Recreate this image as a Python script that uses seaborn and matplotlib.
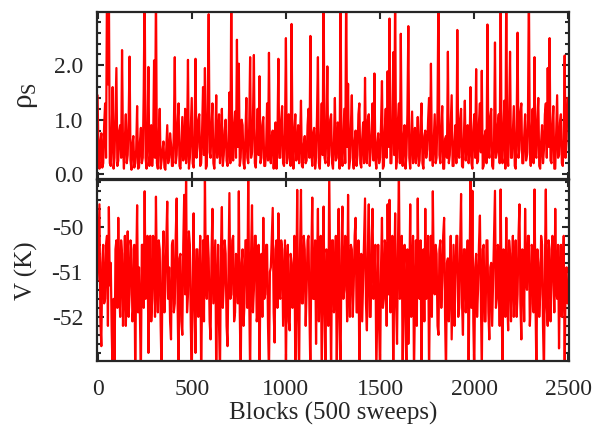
import numpy as np
import pandas as pd
import seaborn as sns
import matplotlib.pyplot as plt
from matplotlib.ticker import MultipleLocator, FixedLocator, FormatStrFormatter

# un punto cada 5 bloques (500 sweeps por bloque)
paso = 5

# densidad superfluida rho_S, leida a ojo del grafico
rho_s = [
    1.45, 0.4, 0.1, 0.6, 0.75, 0.12, 0.2, 0.9, 1.3, 0.3, 3.5, 1.65, 3.5, 0.2, 0.15, 0.7, 1.6, 0.1, 0.3, 1.1,
    1.95, 0.15, 0.25, 0.8, 0.9, 0.3, 2.28, 0.5, 0.1, 0.65, 1.1, 0.2, 0.35, 1.0, 2.16, 0.25, 0.08, 0.55, 0.7, 0.12,
    0.2, 0.45, 1.25, 0.1, 0.12, 0.6, 0.85, 0.2, 0.3, 1.5, 3.5, 0.3, 0.1, 0.75, 1.97, 0.15, 0.4, 0.9, 0.15, 0.5,
    2.09, 0.3, 3.5, 0.2, 0.1, 0.7, 1.2, 0.1, 0.25, 0.45, 0.6, 0.12, 0.08, 0.5, 0.9, 0.2, 0.3, 0.75, 0.55, 0.15,
    0.15, 0.8, 2.15, 0.2, 0.35, 0.95, 1.3, 0.15, 0.1, 0.6, 1.05, 0.25, 0.45, 1.2, 0.2, 0.5, 2.1, 0.1, 0.3, 0.85,
    1.4, 0.2, 0.12, 0.7, 2.12, 0.3, 0.5, 1.0, 1.1, 0.15, 0.2, 0.8, 1.6, 0.35, 1.95, 0.1, 0.15, 1.3, 2.94, 0.4,
    0.3, 0.9, 1.3, 0.2, 0.1, 0.65, 1.45, 0.3, 0.6, 1.1, 0.2, 0.5, 1.2, 0.15, 0.35, 0.8, 1.0, 0.25, 0.15, 0.6,
    1.5, 0.2, 3.5, 0.4, 0.25, 0.9, 1.15, 0.3, 2.47, 0.5, 2.03, 0.15, 0.3, 1.0, 0.9, 0.2, 0.1, 0.7, 1.4, 0.3,
    0.2, 0.85, 2.15, 0.3, 0.4, 1.0, 2.19, 0.2, 0.12, 0.6, 1.2, 0.35, 1.8, 0.2, 0.3, 0.9, 1.05, 0.15, 0.15, 0.5,
    1.3, 0.25, 2.23, 0.4, 0.2, 0.7, 0.8, 0.1, 0.45, 0.95, 0.1, 0.6, 2.12, 0.3, 0.3, 1.0, 1.25, 0.2, 0.15, 0.75,
    2.5, 0.2, 0.3, 1.1, 0.9, 0.15, 2.76, 0.5, 0.1, 0.8, 1.1, 0.25, 0.4, 0.9, 0.2, 0.6, 1.35, 0.15, 0.12, 0.55,
    0.7, 0.2, 0.25, 0.9, 1.2, 0.3, 2.54, 0.4, 0.15, 0.75, 0.85, 0.1, 0.3, 1.05, 2.15, 0.2, 0.1, 0.65, 1.3, 0.35,
    3.5, 0.3, 0.2, 0.8, 1.98, 0.15, 0.35, 1.0, 1.1, 0.2, 0.1, 0.6, 1.4, 0.25, 0.3, 0.95, 0.9, 0.1, 3.5, 0.4,
    0.15, 0.7, 1.2, 0.2, 3.5, 0.5, 1.66, 0.1, 0.25, 0.9, 1.45, 0.3, 0.1, 0.6, 0.8, 0.15, 0.35, 1.1, 1.3, 0.2,
    0.12, 0.65, 0.95, 0.2, 1.77, 0.4, 0.2, 1.0, 1.1, 0.15, 0.4, 0.8, 1.3, 0.25, 1.85, 0.3, 0.1, 0.55, 0.75, 0.2,
    0.3, 0.9, 1.71, 0.1, 0.15, 0.8, 1.2, 0.3, 1.89, 0.5, 2.86, 0.2, 0.2, 0.9, 2.24, 0.35, 3.5, 0.1, 0.3, 1.0,
    1.3, 0.2, 2.58, 0.4, 0.15, 0.7, 0.9, 0.1, 0.35, 1.1, 2.72, 0.3, 0.1, 0.6, 1.15, 0.2, 0.4, 0.85, 0.2, 0.5,
    1.05, 0.15, 0.25, 0.9, 1.3, 0.2, 0.1, 0.7, 0.8, 0.3, 0.45, 1.0, 1.4, 0.25, 2.03, 0.4, 0.15, 0.6, 1.1, 0.2,
    0.3, 1.2, 3.5, 0.35, 0.2, 0.8, 1.25, 0.1, 0.1, 0.65, 0.7, 0.3, 2.25, 0.2, 0.35, 0.9, 1.45, 0.15, 0.15, 0.6,
    0.9, 0.2, 2.65, 0.4, 0.3, 1.0, 1.2, 0.15, 0.12, 0.7, 1.35, 0.25, 0.5, 0.9, 0.2, 0.45, 1.6, 0.2, 0.1, 0.8,
    1.1, 0.3, 1.93, 0.2, 0.25, 0.95, 1.3, 0.4, 1.9, 0.1, 0.15, 0.7, 0.8, 0.2, 2.75, 0.5, 0.3, 1.05, 1.2, 0.15,
    0.1, 0.6, 2.42, 0.3, 0.4, 0.9, 1.1, 0.2, 3.5, 0.35, 0.2, 0.85, 1.35, 0.1, 3.5, 0.4, 0.15, 1.0, 2.25, 0.3,
    0.3, 0.75, 1.25, 0.15, 0.1, 0.9, 2.6, 0.3, 0.45, 1.15, 1.3, 0.2, 0.2, 0.7, 1.1, 0.25, 0.35, 1.0, 3.5, 0.4,
    0.15, 0.8, 1.2, 0.2, 2.15, 0.35, 0.3, 1.0, 1.4, 0.15, 0.1, 0.6, 0.9, 0.2, 0.45, 1.1, 1.3, 0.3, 1.95, 0.5,
    2.5, 0.25, 0.2, 0.9, 1.25, 0.1, 0.1, 0.75, 1.45, 0.3, 0.35, 0.95, 1.1, 0.2, 0.15, 0.65, 2.18, 0.3, 0.6, 1.4,
]

# energia potencial V (K)
pot_v = [
    -51.2, -50.3, -49.5, -52.1, -52.65, -50.8, -50.4, -51.7, -51.6, -50.4, -50.2, -52.2, -49.56, -51.3, -50.8, -52.3, -53.3, -51.6, -53.3, -50.5,
    -50.3, -51.8, -49.8, -51.4, -52.0, -50.3, -50.6, -52.2, -51.4, -50.2, -52.2, -51.3, -50.1, -52.0, -51.5, -50.3, -50.5, -52.1, -51.8, -50.4,
    -53.3, -51.0, -49.52, -51.9, -50.9, -52.0, -53.3, -50.4, -50.4, -51.8, -49.21, -51.6, -51.3, -50.2, -52.8, -51.3, -50.2, -52.1, -51.6, -50.2,
    -50.7, -52.0, -49.33, -51.2, -51.9, -50.3, -50.5, -52.2, -53.3, -50.8, -50.1, -51.9, -51.4, -50.3, -49.44, -51.6, -50.9, -52.1, -52.5, -50.4,
    -50.3, -51.9, -51.7, -50.2, -49.37, -51.7, -53.3, -50.7, -50.6, -52.1, -52.4, -50.4, -49.29, -51.5, -48.8, -51.9, -51.5, -50.1, -50.4, -52.2,
    -53.3, -51.2, -49.7, -51.8, -52.8, -50.5, -50.5, -52.0, -51.2, -50.2, -53.3, -51.5, -50.3, -52.1, -48.8, -51.2, -51.6, -50.2, -50.7, -52.1,
    -52.5, -50.6, -49.6, -51.7, -51.0, -50.3, -53.3, -51.4, -50.4, -52.2, -53.3, -50.5, -49.56, -51.8, -51.3, -50.3, -50.6, -52.2, -52.65, -51.0,
    -49.25, -51.6, -51.5, -50.3, -50.2, -52.1, -51.9, -50.6, -50.8, -51.7, -49.21, -51.9, -53.3, -50.8, -50.5, -52.2, -51.7, -50.3, -50.3, -51.8,
    -48.8, -51.5, -53.3, -50.6, -49.52, -51.9, -51.4, -50.2, -50.2, -52.1, -51.9, -50.4, -53.3, -50.9, -50.6, -52.0, -49.8, -51.6, -51.5, -50.4,
    -50.4, -52.2, -53.3, -51.0, -50.9, -50.2, -49.58, -51.9, -52.57, -50.5, -50.3, -51.8, -49.7, -51.5, -51.6, -50.3, -50.5, -52.2, -51.2, -50.3,
    -53.3, -51.0, -50.4, -52.1, -52.3, -50.6, -50.8, -51.8, -51.3, -50.2, -53.3, -51.5, -49.18, -52.0, -53.3, -50.5, -49.18, -51.7, -51.7, -50.2,
    -50.5, -52.2, -51.4, -50.3, -50.2, -51.9, -53.3, -50.6, -49.35, -51.6, -51.6, -50.3, -52.6, -51.0, -49.6, -52.1, -51.0, -50.2, -53.3, -51.4,
    -49.55, -51.8, -53.3, -50.5, -50.6, -52.2, -48.8, -51.0, -53.3, -50.3, -50.3, -51.9, -51.5, -50.2, -53.3, -51.1, -49.6, -52.1, -53.3, -50.5,
    -49.55, -51.6, -51.4, -50.2, -50.7, -52.1, -49.29, -51.5, -52.0, -50.4, -50.5, -52.0, -51.3, -50.2, -49.8, -51.9, -51.9, -50.3, -53.3, -51.0,
    -50.6, -52.1, -51.2, -50.2, -49.37, -51.7, -52.3, -50.6, -49.5, -52.0, -52.0, -50.3, -49.6, -51.6, -51.1, -50.4, -53.3, -51.8, -50.4, -52.2,
    -53.3, -50.9, -49.8, -51.8, -51.6, -50.3, -50.5, -52.2, -49.5, -51.5, -49.4, -51.9, -51.3, -50.2, -53.3, -51.2, -49.7, -51.7, -52.6, -50.4,
    -48.8, -51.6, -51.5, -50.2, -53.3, -51.0, -50.4, -52.1, -53.3, -50.5, -52.6, -51.4, -49.5, -52.0, -51.0, -50.2, -53.3, -51.7, -50.3, -52.2,
    -49.37, -51.5, -51.6, -50.3, -53.3, -50.9, -50.5, -52.1, -49.6, -51.6, -51.4, -50.2, -53.3, -51.2, -50.2, -52.0, -49.21, -51.1, -51.5, -50.4,
    -50.6, -52.2, -52.4, -50.5, -50.3, -51.8, -51.2, -50.2, -49.8, -52.0, -53.3, -50.8, -50.7, -52.1, -51.3, -50.2, -52.5, -51.4, -50.4, -52.2,
    -51.1, -50.2, -50.2, -52.0, -51.8, -50.4, -49.27, -51.7, -52.4, -50.5, -50.5, -51.9, -51.3, -50.3, -53.3, -51.0, -48.8, -51.8, -49.2, -52.1,
    -53.3, -50.9, -50.6, -52.0, -51.4, -50.4, -49.75, -51.6, -53.3, -50.5, -50.4, -52.1, -52.1, -50.3, -50.3, -51.9, -52.5, -50.9, -50.8, -52.2,
    -51.2, -50.2, -49.2, -51.8, -51.6, -50.4, -50.5, -52.2, -49.17, -51.4, -53.3, -50.5, -50.9, -52.0, -49.8, -51.6, -52.3, -50.3, -50.6, -52.1,
    -51.0, -50.2, -52.0, -51.4, -50.3, -52.0, -51.5, -50.2, -49.5, -51.7, -52.5, -50.5, -50.7, -52.1, -49.6, -51.2, -51.4, -50.2, -50.2, -52.2,
    -51.7, -50.4, -50.5, -51.9, -49.17, -51.6, -53.3, -50.5, -50.8, -52.0, -51.5, -50.2, -50.4, -52.2, -53.3, -50.9, -49.17, -51.8, -52.2, -50.3,
    -50.5, -52.1, -51.3, -50.2, -50.7, -51.9, -49.6, -51.4, -51.6, -50.4, -52.7, -51.0, -50.4, -52.0, -51.2, -50.2, -53.3, -51.1, -50.9, -51.7,
]

df = pd.DataFrame({'Bloque': np.arange(len(rho_s)) * paso, 'rho': rho_s, 'V': pot_v})

sns.set_style('ticks')
plt.rcParams['font.family'] = ['Liberation Serif', 'DejaVu Serif']
plt.rcParams['mathtext.fontset'] = 'custom'
plt.rcParams['mathtext.rm'] = 'Liberation Serif'
plt.rcParams['mathtext.it'] = 'Liberation Serif'
plt.rcParams['axes.unicode_minus'] = False

fig = plt.figure(figsize=(5.98, 4.26), dpi=100)
ax1 = fig.add_axes([97 / 598, 1 - 179 / 426, 472 / 598, 167 / 426])
ax2 = fig.add_axes([97 / 598, 1 - 361 / 426, 472 / 598, 181 / 426])

sns.lineplot(data=df, x='Bloque', y='rho', ax=ax1, color='#ff0000', linewidth=1.6)
sns.lineplot(data=df, x='Bloque', y='V', ax=ax2, color='#ff0000', linewidth=1.6)

for ax in (ax1, ax2):
    ax.set_xlim(-3, 2503)
    ax.xaxis.set_major_locator(MultipleLocator(500))
    ax.yaxis.set_minor_locator(MultipleLocator(0.2))
    ax.tick_params(which='both', direction='in', top=True, right=True,
                   width=1.5, labelsize=17)
    ax.tick_params(which='major', length=5)
    ax.tick_params(which='minor', length=3)
    ax.tick_params(axis='y', pad=10)
    ax.tick_params(axis='x', pad=13)
    for s in ax.spines.values():
        s.set_linewidth(1.6)
    ax.set_xlabel('')

ax1.set_ylim(-0.09, 2.98)
ax1.yaxis.set_major_locator(FixedLocator([0.0, 1.0, 2.0]))
ax1.yaxis.set_major_formatter(FormatStrFormatter('%.1f'))
ax1.set_xticklabels([])
ax1.set_ylabel(r'$\rho_\mathrm{S}$', fontsize=21, labelpad=10)

ax2.set_ylim(-52.98, -48.96)
ax2.yaxis.set_major_locator(FixedLocator([-52, -51, -50]))
ax2.yaxis.set_major_formatter(FormatStrFormatter('%d'))
ax2.set_ylabel('V (K)', fontsize=18, labelpad=10)
ax2.set_xlabel('Blocks (500 sweeps)', fontsize=18, labelpad=1)

fig.align_ylabels([ax1, ax2])
plt.savefig('out.png', dpi=100)
